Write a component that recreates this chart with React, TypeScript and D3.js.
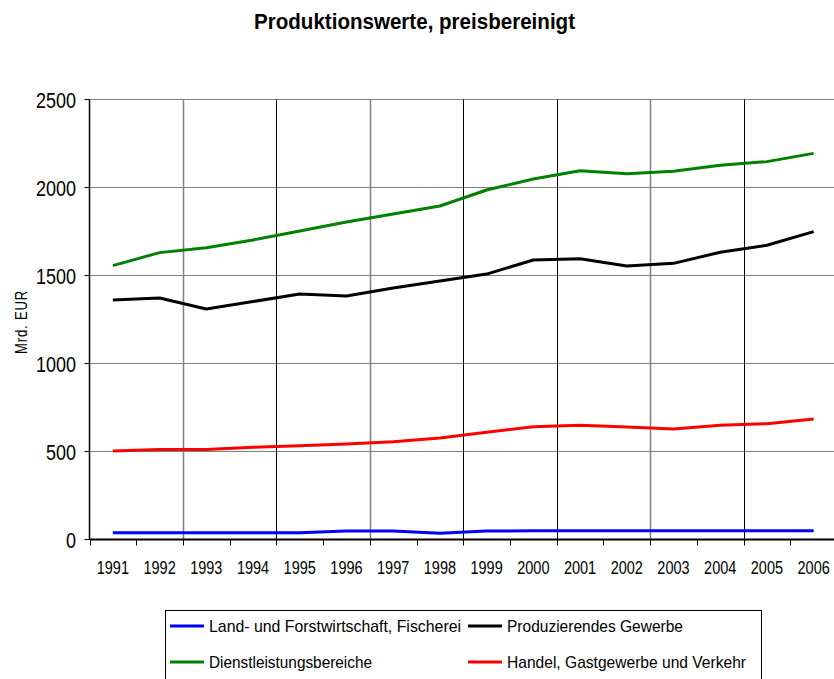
import React, { useEffect, useRef } from 'react';
import * as d3 from 'd3';

const years = ['1991', '1992', '1993', '1994', '1995', '1996', '1997', '1998', '1999', '2000', '2001', '2002', '2003', '2004', '2005', '2006'];

const landForst = [39, 39, 39, 39, 39, 48, 48, 35, 48, 50, 50, 50, 50, 50, 50, 50];
const produzierend = [1361, 1372, 1310, 1352, 1395, 1383, 1429, 1469, 1508, 1588, 1595, 1554, 1569, 1632, 1672, 1749];
const dienstleistung = [1556, 1630, 1658, 1702, 1753, 1804, 1850, 1895, 1986, 2048, 2095, 2078, 2092, 2126, 2147, 2194];
const handel = [503, 512, 512, 524, 533, 543, 556, 577, 609, 641, 649, 639, 628, 649, 658, 685];

const yTicks = [0, 500, 1000, 1500, 2000, 2500];

const series = [
  { name: 'Land- und Forstwirtschaft, Fischerei', values: landForst, color: '#0000ff' },
  { name: 'Produzierendes Gewerbe', values: produzierend, color: '#000000' },
  { name: 'Dienstleistungsbereiche', values: dienstleistung, color: '#008000' },
  { name: 'Handel, Gastgewerbe und Verkehr', values: handel, color: '#ff0000' },
];

const App = () => {
  const ref = useRef(null);

  useEffect(() => {
    document.body.style.margin = '0';
    const width = 834;
    const height = 679;
    const left = 89.5;
    const right = 837;
    const top = 99.5;
    const bottom = 539.5;

    d3.select(ref.current).selectAll('*').remove();
    const svg = d3
      .select(ref.current)
      .append('svg')
      .attr('width', width)
      .attr('height', height)
      .style('display', 'block')
      .style('font-family', '"Liberation Sans", Arial, sans-serif');

    const x = d3.scaleBand().domain(years).range([left, right]);
    const y = d3.scaleLinear().domain([0, 2500]).range([bottom, top]);
    const cx = (d) => x(d) + x.bandwidth() / 2;

    // narrow, tall text like the original
    svg
      .append('text')
      .attr('x', 254)
      .attr('y', 29)
      .attr('textLength', 321)
      .attr('lengthAdjust', 'spacingAndGlyphs')
      .style('font-size', '22px')
      .style('font-weight', 'bold')
      .text('Produktionswerte, preisbereinigt');

    // horizontal grid
    svg
      .append('g')
      .selectAll('line')
      .data(yTicks.filter((t) => t > 0))
      .enter()
      .append('line')
      .attr('x1', left)
      .attr('x2', width)
      .attr('y1', (d) => y(d))
      .attr('y2', (d) => y(d))
      .attr('stroke', '#808080')
      .attr('stroke-width', 1);

    // vertical grid every second year boundary
    const boundaries = d3.range(0, years.length + 1).map((i) => left + i * x.step());
    const gridIdx = [2, 4, 6, 8, 10, 12, 14];
    const darkIdx = [4, 8, 10, 14];
    svg
      .append('g')
      .selectAll('line')
      .data(gridIdx)
      .enter()
      .append('line')
      .attr('x1', (i) => Math.round(boundaries[i]) + 0.5)
      .attr('x2', (i) => Math.round(boundaries[i]) + 0.5)
      .attr('y1', top)
      .attr('y2', bottom)
      .attr('stroke', (i) => (darkIdx.includes(i) ? '#000' : '#808080'))
      .attr('stroke-width', (i) => (darkIdx.includes(i) ? 1 : 1.5));

    // y axis
    const yAxis = svg.append('g');
    yAxis
      .append('line')
      .attr('x1', left)
      .attr('x2', left)
      .attr('y1', top)
      .attr('y2', bottom)
      .attr('stroke', '#000')
      .attr('stroke-width', 1.5);
    yAxis
      .selectAll('line.tick')
      .data(yTicks)
      .enter()
      .append('line')
      .attr('class', 'tick')
      .attr('x1', left - 5)
      .attr('x2', left)
      .attr('y1', (d) => y(d))
      .attr('y2', (d) => y(d))
      .attr('stroke', '#000');
    yAxis
      .selectAll('text')
      .data(yTicks)
      .enter()
      .append('text')
      .attr('transform', (d) => `translate(76, ${y(d) + 8}) scale(1, 1.22)`)
      .attr('text-anchor', 'end')
      .style('font-size', '18px')
      .text((d) => d);

    // x axis
    const xAxis = svg.append('g');
    xAxis
      .append('line')
      .attr('x1', left)
      .attr('x2', width)
      .attr('y1', bottom)
      .attr('y2', bottom)
      .attr('stroke', '#000')
      .attr('stroke-width', 2);
    xAxis
      .selectAll('line.tick')
      .data(boundaries)
      .enter()
      .append('line')
      .attr('class', 'tick')
      .attr('x1', (d) => Math.round(d) + 0.5)
      .attr('x2', (d) => Math.round(d) + 0.5)
      .attr('y1', bottom)
      .attr('y2', bottom + 6)
      .attr('stroke', '#000');
    xAxis
      .selectAll('text')
      .data(years)
      .enter()
      .append('text')
      .attr('transform', (d) => `translate(${cx(d)}, 574) scale(1, 1.3)`)
      .attr('text-anchor', 'middle')
      .style('font-size', '14.5px')
      .text((d) => d);

    svg
      .append('text')
      .attr('transform', 'rotate(-90)')
      .attr('x', -322)
      .attr('y', 27)
      .attr('text-anchor', 'middle')
      .attr('textLength', 64)
      .attr('lengthAdjust', 'spacingAndGlyphs')
      .style('font-size', '16px')
      .style('letter-spacing', '1px')
      .text('Mrd. EUR');

    const line = d3
      .line()
      .x((d, i) => cx(years[i]))
      .y((d) => y(d));

    svg
      .append('g')
      .selectAll('path')
      .data(series)
      .enter()
      .append('path')
      .attr('d', (s) => line(s.values))
      .attr('fill', 'none')
      .attr('stroke', (s) => s.color)
      .attr('stroke-width', 3)
      .attr('stroke-linejoin', 'round');

    // legend
    const legend = svg.append('g');
    legend
      .append('rect')
      .attr('x', 165.5)
      .attr('y', 610.5)
      .attr('width', 596)
      .attr('height', 75)
      .attr('fill', '#fff')
      .attr('stroke', '#000');

    const legendItems = [
      { x: 170, y: 626, len: 252 },
      { x: 468, y: 626, len: 176 },
      { x: 170, y: 662, len: 163 },
      { x: 468, y: 662, len: 239 },
    ];
    series.forEach((s, i) => {
      const it = legendItems[i];
      const g = legend.append('g').attr('transform', `translate(${it.x}, ${it.y})`);
      g.append('line')
        .attr('x1', 0)
        .attr('x2', 34)
        .attr('y1', 0)
        .attr('y2', 0)
        .attr('stroke', s.color)
        .attr('stroke-width', 3);
      g.append('text')
        .attr('x', 39)
        .attr('y', 6)
        .attr('textLength', it.len)
        .attr('lengthAdjust', 'spacingAndGlyphs')
        .style('font-size', '17px')
        .text(s.name);
    });
  }, []);

  return <div ref={ref}></div>;
};

export default App;
